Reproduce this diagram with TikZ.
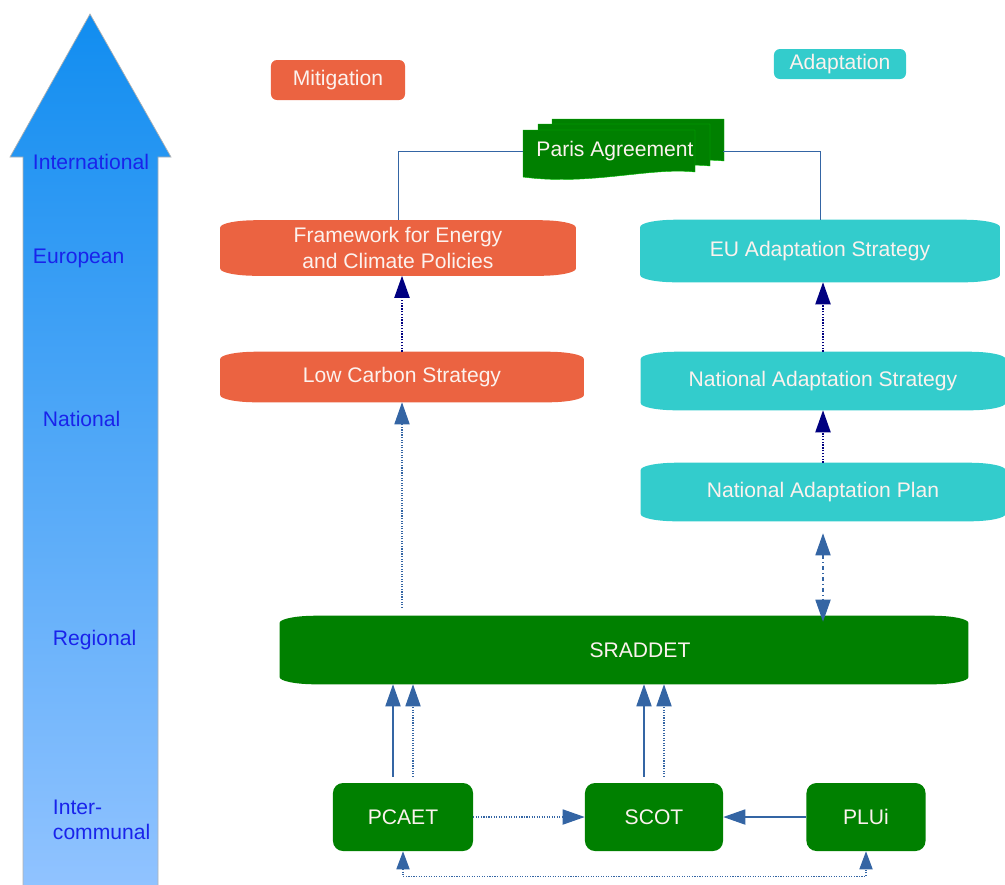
\documentclass[tikz,border=0pt]{standalone}
\usepackage{fontspec}
\setmainfont{Liberation Sans}
\usetikzlibrary{arrows.meta, positioning}
\pgfdeclarelayer{background}
\pgfsetlayers{background,main}

\definecolor{mitorange}{RGB}{235,99,65}
\definecolor{adateal}{RGB}{51,204,204}
\definecolor{plangreen}{RGB}{0,128,0}
\definecolor{boxtext}{RGB}{252,242,238}
\definecolor{levelblue}{RGB}{25,35,235}
\definecolor{linknavy}{RGB}{0,0,128}
\definecolor{linksteel}{RGB}{52,101,164}
\definecolor{arrowtop}{RGB}{17,141,240}
\definecolor{arrowbot}{RGB}{145,195,255}

\begin{document}
\begin{tikzpicture}[x=0.025cm, y=-0.025cm, font=\fontsize{15}{18}\selectfont]
        % styles
        \tikzstyle{tag} = [rectangle, rounded corners=0.15cm, text=boxtext, text centered]
        \tikzstyle{softbox} = [rectangle, text=boxtext, align=center, inner sep=0pt]
        \tikzstyle{planbox} = [rectangle, rounded corners=0.25cm, minimum height=1.7cm, fill=plangreen, text=boxtext]
        \tikzstyle{level} = [anchor=west, text=levelblue, align=left]
        \tikzstyle{navyarrow} = [linknavy, densely dotted, line width=1pt, -{Triangle[length=0.55cm, width=0.38cm]}]
        \tikzstyle{steelarrow} = [linksteel, line width=0.8pt, -{Triangle[length=0.55cm, width=0.38cm]}]
        \tikzstyle{link} = [linksteel, line width=0.7pt]

        \useasboundingbox (0,0) rectangle (1005,884);

        % level arrow
        \shade[top color=arrowtop, bottom color=arrowbot, draw=gray!60, line width=0.5pt]
            (90,14) -- (171,157) -- (158,157) -- (158,890) -- (23,890) -- (23,157) -- (10,157) -- cycle;
        \node (lvlint) [level] at (28,162) {International};
        \node (lvleu) [level] at (28,258) {European};
        \node (lvlnat) [level] at (38,419) {National};
        \node (lvlreg) [level] at (48,640) {Regional};
        \node (lvlloc) [level] at (48,820) {Inter-\\communal};

        % headings
        \node (mitigation) [tag, fill=mitorange, minimum width=3.35cm, minimum height=1cm] at (338,80) {Mitigation};
        \node (adaptation) [tag, fill=adateal, minimum width=3.3cm, minimum height=0.75cm] at (840,64) {Adaptation};

        % Paris Agreement (stacked documents)
        \foreach \dx/\dy in {29/-11, 15/-6, 0/0}
            \filldraw[fill=plangreen, draw=green!45!plangreen, line width=0.3pt, shift={(\dx,\dy)}]
                (523,130) -- (695,130) -- (695,172) .. controls (650,167) and (590,186) .. (523,177) -- cycle;
        \node (paris) [minimum width=5cm, minimum height=1.45cm, text=boxtext] at (623,151) {\hspace*{-0.4cm}\raisebox{-0.07cm}{Paris Agreement}};

        % mitigation column
        \node (framework) [softbox, minimum width=8.875cm, minimum height=1.375cm] at (398,248) {Framework for Energy\\and Climate Policies};
        \node (lowcarbon) [softbox, minimum width=9.075cm, minimum height=1.25cm] at (402,377) {Low Carbon Strategy};

        % adaptation column
        \node (eustrategy) [softbox, minimum width=8.975cm, minimum height=1.55cm] at (820,251) {EU Adaptation Strategy};
        \node (natstrategy) [softbox, minimum width=9.1cm, minimum height=1.45cm] at (823,381) {National Adaptation Strategy};
        \node (natplan) [softbox, minimum width=9.1cm, minimum height=1.45cm] at (823,492) {National Adaptation Plan};

        % regional and local plans
        \node (sraddet) [softbox, minimum width=17.2cm, minimum height=1.7cm] at (624,650) {\hspace*{0.8cm}\raisebox{-0.12cm}{SRADDET}};
        \node (pcaet) [planbox, minimum width=3.5cm] at (403,817) {PCAET};
        \node (scot) [planbox, minimum width=3.45cm] at (654,817) {SCOT};
        \node (plui) [planbox, minimum width=2.975cm] at (866,817) {PLUi};

        % soft-cornered fills behind the strategy boxes
        \begin{pgfonlayer}{background}
        \foreach \n/\c in {framework/mitorange, lowcarbon/mitorange, eustrategy/adateal, natstrategy/adateal, natplan/adateal, sraddet/plangreen}
            \fill[\c] ([yshift=-0.18cm]\n.north west) arc[start angle=180, end angle=90, x radius=0.9cm, y radius=0.18cm]
                -- ([xshift=-0.9cm]\n.north east) arc[start angle=90, end angle=0, x radius=0.9cm, y radius=0.18cm]
                -- ([yshift=0.18cm]\n.south east) arc[start angle=0, end angle=-90, x radius=0.9cm, y radius=0.18cm]
                -- ([xshift=0.9cm]\n.south west) arc[start angle=-90, end angle=-180, x radius=0.9cm, y radius=0.18cm]
                -- cycle;
        \end{pgfonlayer}

        % connectors
        \draw [link] (paris.west) -| (framework.north);
        \draw [link] (paris.east) -| (eustrategy.north);
        \draw [navyarrow] (lowcarbon.north) -- (lowcarbon.north |- framework.south);
        \draw [navyarrow] (natstrategy.north) -- (natstrategy.north |- eustrategy.south);
        \draw [navyarrow] (natplan.north) -- (natplan.north |- natstrategy.south);
        \draw [steelarrow, densely dotted, shorten <=0.2cm] (lowcarbon.south |- sraddet.north) -- (lowcarbon.south);
        \draw [steelarrow, dash dot, {Triangle[length=0.55cm, width=0.38cm]}-{Triangle[length=0.55cm, width=0.38cm]}, shorten <=0.3cm, shorten >=-0.15cm] (natplan.south) -- (natplan.south |- sraddet.north);
        \draw [steelarrow, shorten <=0.15cm] ([xshift=-0.25cm]pcaet.north) -- ([xshift=-0.25cm]pcaet.north |- sraddet.south);
        \draw [steelarrow, densely dotted, shorten <=0.15cm] ([xshift=0.25cm]pcaet.north) -- ([xshift=0.25cm]pcaet.north |- sraddet.south);
        \draw [steelarrow, shorten <=0.15cm] ([xshift=-0.25cm]scot.north) -- ([xshift=-0.25cm]scot.north |- sraddet.south);
        \draw [steelarrow, densely dotted, shorten <=0.15cm] ([xshift=0.25cm]scot.north) -- ([xshift=0.25cm]scot.north |- sraddet.south);
        \draw [steelarrow, densely dotted] (pcaet.east) -- (scot.west);
        \draw [steelarrow] (plui.west) -- (scot.east);
        \draw [steelarrow, densely dotted, {Triangle[length=0.45cm, width=0.33cm]}-{Triangle[length=0.45cm, width=0.33cm]}] (pcaet.south) -- ++(0,25) -| (plui.south);

    \end{tikzpicture}
\end{document}
